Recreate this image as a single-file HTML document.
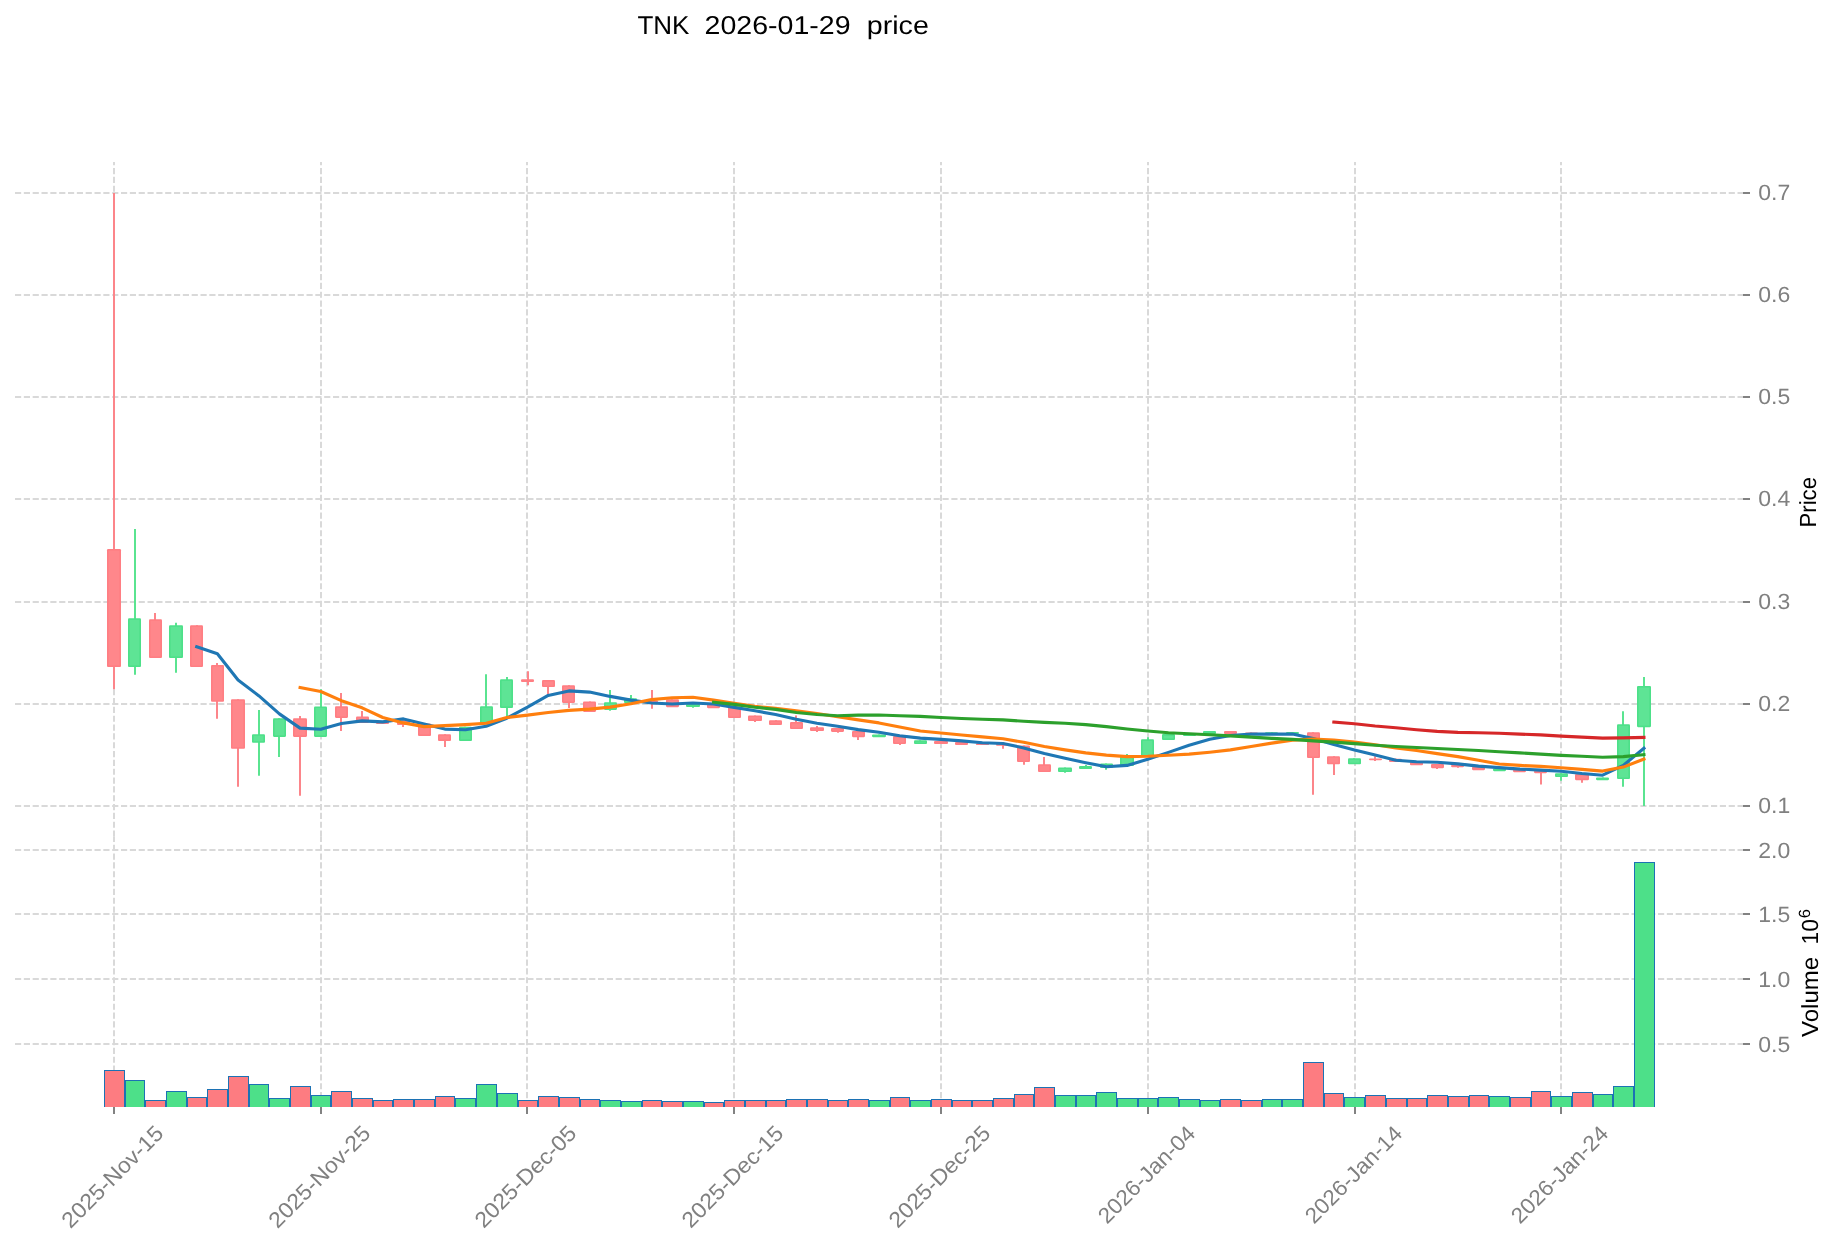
<!DOCTYPE html>
<html lang="en"><head><meta charset="utf-8"><title>TNK 2026-01-29 price</title>
<style>html,body{margin:0;padding:0;background:#ffffff;}body{width:1839px;height:1246px;overflow:hidden;font-family:"Liberation Sans", sans-serif;}svg{display:block;will-change:transform;}text{font-family:"Liberation Sans", sans-serif;text-rendering:geometricPrecision;}</style>
</head><body>
<svg width="1839" height="1246" viewBox="0 0 1839 1246">
<rect x="0" y="0" width="1839" height="1246" fill="#ffffff"/>
<g fill="none" stroke="#d9d9d9" stroke-width="2.00" stroke-dasharray="6.1667 2.6667">
<path d="M114.00 836.70 V162.00"/>
<path d="M114.00 1107.00 V836.70"/>
<path d="M321.00 836.70 V162.00"/>
<path d="M321.00 1107.00 V836.70"/>
<path d="M527.00 836.70 V162.00"/>
<path d="M527.00 1107.00 V836.70"/>
<path d="M734.00 836.70 V162.00"/>
<path d="M734.00 1107.00 V836.70"/>
<path d="M941.00 836.70 V162.00"/>
<path d="M941.00 1107.00 V836.70"/>
<path d="M1148.00 836.70 V162.00"/>
<path d="M1148.00 1107.00 V836.70"/>
<path d="M1355.00 836.70 V162.00"/>
<path d="M1355.00 1107.00 V836.70"/>
<path d="M1561.00 836.70 V162.00"/>
<path d="M1561.00 1107.00 V836.70"/>
<path d="M15.00 193.00 H1743.00"/>
<path d="M15.00 295.00 H1743.00"/>
<path d="M15.00 397.00 H1743.00"/>
<path d="M15.00 499.00 H1743.00"/>
<path d="M15.00 602.00 H1743.00"/>
<path d="M15.00 704.00 H1743.00"/>
<path d="M15.00 806.00 H1743.00"/>
<path d="M15.00 850.00 H1743.00"/>
<path d="M15.00 914.00 H1743.00"/>
<path d="M15.00 979.00 H1743.00"/>
<path d="M15.00 1044.00 H1743.00"/>
</g>
<g>
<path d="M114.00 193.00 V689.20" stroke="#fc858a" stroke-width="2" fill="none"/>
<rect x="107.00" y="549.10" width="14.00" height="117.90" rx="1.1" fill="#ff7e83"/>
<rect x="108.60" y="550.70" width="10.80" height="114.70" fill="#ff878b"/>
<path d="M135.00 529.00 V674.80" stroke="#5ae490" stroke-width="2" fill="none"/>
<rect x="128.00" y="618.30" width="13.00" height="48.70" rx="1.1" fill="#4de089"/>
<rect x="129.60" y="619.90" width="9.80" height="45.50" fill="#5ee495"/>
<path d="M155.00 613.10 V657.60" stroke="#fc858a" stroke-width="2" fill="none"/>
<rect x="149.00" y="619.30" width="13.00" height="38.70" rx="1.1" fill="#ff7e83"/>
<rect x="150.60" y="620.90" width="9.80" height="35.50" fill="#ff878b"/>
<path d="M176.00 622.80 V672.80" stroke="#5ae490" stroke-width="2" fill="none"/>
<rect x="169.00" y="625.30" width="14.00" height="32.70" rx="1.1" fill="#4de089"/>
<rect x="170.60" y="626.90" width="10.80" height="29.50" fill="#5ee495"/>
<path d="M197.00 625.30 V666.70" stroke="#fc858a" stroke-width="2" fill="none"/>
<rect x="190.00" y="625.30" width="13.00" height="41.80" rx="1.1" fill="#ff7e83"/>
<rect x="191.60" y="626.90" width="9.80" height="38.60" fill="#ff878b"/>
<path d="M217.00 663.00 V718.80" stroke="#fc858a" stroke-width="2" fill="none"/>
<rect x="211.00" y="665.10" width="13.00" height="36.70" rx="1.1" fill="#ff7e83"/>
<rect x="212.60" y="666.70" width="9.80" height="33.50" fill="#ff878b"/>
<path d="M238.00 699.20 V786.70" stroke="#fc858a" stroke-width="2" fill="none"/>
<rect x="231.00" y="699.20" width="14.00" height="49.60" rx="1.1" fill="#ff7e83"/>
<rect x="232.60" y="700.80" width="10.80" height="46.40" fill="#ff878b"/>
<path d="M259.00 710.10 V775.80" stroke="#5ae490" stroke-width="2" fill="none"/>
<rect x="252.00" y="734.20" width="13.00" height="8.60" rx="1.1" fill="#4de089"/>
<rect x="253.60" y="735.80" width="9.80" height="5.40" fill="#5ee495"/>
<path d="M279.00 718.30 V756.90" stroke="#5ae490" stroke-width="2" fill="none"/>
<rect x="273.00" y="718.30" width="13.00" height="18.60" rx="1.1" fill="#4de089"/>
<rect x="274.60" y="719.90" width="9.80" height="15.40" fill="#5ee495"/>
<path d="M300.00 716.10 V795.70" stroke="#fc858a" stroke-width="2" fill="none"/>
<rect x="293.00" y="718.30" width="14.00" height="18.60" rx="1.1" fill="#ff7e83"/>
<rect x="294.60" y="719.90" width="10.80" height="15.40" fill="#ff878b"/>
<path d="M321.00 689.20 V736.50" stroke="#5ae490" stroke-width="2" fill="none"/>
<rect x="314.00" y="706.40" width="13.00" height="30.50" rx="1.1" fill="#4de089"/>
<rect x="315.60" y="708.00" width="9.80" height="27.30" fill="#5ee495"/>
<path d="M341.00 693.00 V731.00" stroke="#fc858a" stroke-width="2" fill="none"/>
<rect x="335.00" y="706.30" width="13.00" height="11.60" rx="1.1" fill="#ff7e83"/>
<rect x="336.60" y="707.90" width="9.80" height="8.40" fill="#ff878b"/>
<path d="M362.00 711.10 V722.50" stroke="#fc858a" stroke-width="2" fill="none"/>
<rect x="356.00" y="716.50" width="13.00" height="6.40" rx="1.1" fill="#ff7e83"/>
<rect x="357.60" y="718.10" width="9.80" height="3.20" fill="#ff878b"/>
<path d="M383.00 720.90 V723.60" stroke="#fc858a" stroke-width="2" fill="none"/>
<rect x="376.00" y="720.90" width="13.00" height="3.10" rx="1.1" fill="#ff7e83"/>
<path d="M403.00 720.60 V727.00" stroke="#fc858a" stroke-width="2" fill="none"/>
<rect x="397.00" y="720.60" width="13.00" height="4.40" rx="1.1" fill="#ff7e83"/>
<rect x="398.60" y="722.20" width="9.80" height="1.20" fill="#ff878b"/>
<path d="M424.00 723.40 V735.60" stroke="#fc858a" stroke-width="2" fill="none"/>
<rect x="418.00" y="723.40" width="13.00" height="12.60" rx="1.1" fill="#ff7e83"/>
<rect x="419.60" y="725.00" width="9.80" height="9.40" fill="#ff878b"/>
<path d="M445.00 734.20 V746.90" stroke="#fc858a" stroke-width="2" fill="none"/>
<rect x="438.00" y="734.20" width="13.00" height="6.80" rx="1.1" fill="#ff7e83"/>
<rect x="439.60" y="735.80" width="9.80" height="3.60" fill="#ff878b"/>
<path d="M465.00 726.80 V740.60" stroke="#5ae490" stroke-width="2" fill="none"/>
<rect x="459.00" y="726.80" width="13.00" height="14.20" rx="1.1" fill="#4de089"/>
<rect x="460.60" y="728.40" width="9.80" height="11.00" fill="#5ee495"/>
<path d="M486.00 674.20 V724.30" stroke="#5ae490" stroke-width="2" fill="none"/>
<rect x="480.00" y="706.20" width="13.00" height="18.50" rx="1.1" fill="#4de089"/>
<rect x="481.60" y="707.80" width="9.80" height="15.30" fill="#5ee495"/>
<path d="M507.00 677.10 V716.70" stroke="#5ae490" stroke-width="2" fill="none"/>
<rect x="500.00" y="679.30" width="13.00" height="28.70" rx="1.1" fill="#4de089"/>
<rect x="501.60" y="680.90" width="9.80" height="25.50" fill="#5ee495"/>
<path d="M528.00 671.20 V685.20" stroke="#fc858a" stroke-width="2" fill="none"/>
<rect x="521.00" y="679.30" width="13.00" height="2.70" rx="1.1" fill="#ff7e83"/>
<path d="M548.00 680.10 V693.90" stroke="#fc858a" stroke-width="2" fill="none"/>
<rect x="542.00" y="680.10" width="13.00" height="7.00" rx="1.1" fill="#ff7e83"/>
<rect x="543.60" y="681.70" width="9.80" height="3.80" fill="#ff878b"/>
<path d="M569.00 685.20 V707.90" stroke="#fc858a" stroke-width="2" fill="none"/>
<rect x="562.00" y="685.20" width="13.00" height="17.70" rx="1.1" fill="#ff7e83"/>
<rect x="563.60" y="686.80" width="9.80" height="14.50" fill="#ff878b"/>
<path d="M590.00 701.40 V711.50" stroke="#fc858a" stroke-width="2" fill="none"/>
<rect x="583.00" y="701.40" width="13.00" height="10.50" rx="1.1" fill="#ff7e83"/>
<rect x="584.60" y="703.00" width="9.80" height="7.30" fill="#ff878b"/>
<path d="M610.00 690.10 V710.80" stroke="#5ae490" stroke-width="2" fill="none"/>
<rect x="604.00" y="702.20" width="13.00" height="7.70" rx="1.1" fill="#4de089"/>
<rect x="605.60" y="703.80" width="9.80" height="4.50" fill="#5ee495"/>
<path d="M631.00 695.10 V702.70" stroke="#5ae490" stroke-width="2" fill="none"/>
<rect x="624.00" y="698.20" width="13.00" height="4.90" rx="1.1" fill="#4de089"/>
<rect x="625.60" y="699.80" width="9.80" height="1.70" fill="#5ee495"/>
<path d="M652.00 690.10 V708.80" stroke="#fc858a" stroke-width="2" fill="none"/>
<rect x="645.00" y="700.50" width="13.00" height="2.40" rx="1.1" fill="#ff7e83"/>
<path d="M672.00 699.30 V706.80" stroke="#fc858a" stroke-width="2" fill="none"/>
<rect x="666.00" y="699.30" width="13.00" height="7.90" rx="1.1" fill="#ff7e83"/>
<rect x="667.60" y="700.90" width="9.80" height="4.70" fill="#ff878b"/>
<path d="M693.00 704.10 V707.80" stroke="#5ae490" stroke-width="2" fill="none"/>
<rect x="686.00" y="704.10" width="14.00" height="2.90" rx="1.1" fill="#4de089"/>
<path d="M714.00 703.70 V707.80" stroke="#fc858a" stroke-width="2" fill="none"/>
<rect x="707.00" y="703.70" width="13.00" height="4.50" rx="1.1" fill="#ff7e83"/>
<rect x="708.60" y="705.30" width="9.80" height="1.30" fill="#ff878b"/>
<path d="M734.00 706.60 V717.70" stroke="#fc858a" stroke-width="2" fill="none"/>
<rect x="728.00" y="706.60" width="13.00" height="11.50" rx="1.1" fill="#ff7e83"/>
<rect x="729.60" y="708.20" width="9.80" height="8.30" fill="#ff878b"/>
<path d="M755.00 715.40 V721.90" stroke="#fc858a" stroke-width="2" fill="none"/>
<rect x="748.00" y="715.40" width="14.00" height="5.60" rx="1.1" fill="#ff7e83"/>
<rect x="749.60" y="717.00" width="10.80" height="2.40" fill="#ff878b"/>
<path d="M776.00 720.20 V724.60" stroke="#fc858a" stroke-width="2" fill="none"/>
<rect x="769.00" y="720.20" width="13.00" height="4.80" rx="1.1" fill="#ff7e83"/>
<rect x="770.60" y="721.80" width="9.80" height="1.60" fill="#ff878b"/>
<path d="M796.00 715.40 V728.70" stroke="#fc858a" stroke-width="2" fill="none"/>
<rect x="790.00" y="722.10" width="13.00" height="7.00" rx="1.1" fill="#ff7e83"/>
<rect x="791.60" y="723.70" width="9.80" height="3.80" fill="#ff878b"/>
<path d="M817.00 726.00 V731.90" stroke="#fc858a" stroke-width="2" fill="none"/>
<rect x="810.00" y="727.20" width="14.00" height="3.90" rx="1.1" fill="#ff7e83"/>
<rect x="811.60" y="728.80" width="10.80" height="0.70" fill="#ff878b"/>
<path d="M838.00 728.00 V732.70" stroke="#fc858a" stroke-width="2" fill="none"/>
<rect x="831.00" y="728.00" width="13.00" height="3.90" rx="1.1" fill="#ff7e83"/>
<rect x="832.60" y="729.60" width="9.80" height="0.70" fill="#ff878b"/>
<path d="M858.00 731.00 V740.00" stroke="#fc858a" stroke-width="2" fill="none"/>
<rect x="852.00" y="731.00" width="13.00" height="6.20" rx="1.1" fill="#ff7e83"/>
<rect x="853.60" y="732.60" width="9.80" height="3.00" fill="#ff878b"/>
<path d="M879.00 734.40 V736.80" stroke="#5ae490" stroke-width="2" fill="none"/>
<rect x="872.00" y="734.40" width="14.00" height="2.80" rx="1.1" fill="#4de089"/>
<path d="M900.00 736.10 V744.90" stroke="#fc858a" stroke-width="2" fill="none"/>
<rect x="893.00" y="736.10" width="13.00" height="8.00" rx="1.1" fill="#ff7e83"/>
<rect x="894.60" y="737.70" width="9.80" height="4.80" fill="#ff878b"/>
<path d="M920.00 740.30 V743.70" stroke="#5ae490" stroke-width="2" fill="none"/>
<rect x="914.00" y="740.30" width="13.00" height="3.80" rx="1.1" fill="#4de089"/>
<rect x="915.60" y="741.90" width="9.80" height="0.60" fill="#5ee495"/>
<path d="M941.00 741.00 V743.70" stroke="#fc858a" stroke-width="2" fill="none"/>
<rect x="934.00" y="741.00" width="14.00" height="3.10" rx="1.1" fill="#ff7e83"/>
<path d="M962.00 742.00 V744.70" stroke="#fc858a" stroke-width="2" fill="none"/>
<rect x="955.00" y="742.00" width="13.00" height="3.10" rx="1.1" fill="#ff7e83"/>
<path d="M982.00 743.20 V744.70" stroke="#fc858a" stroke-width="2" fill="none"/>
<rect x="976.00" y="743.20" width="13.00" height="1.90" rx="1.1" fill="#ff7e83"/>
<path d="M1003.00 743.70 V748.70" stroke="#fc858a" stroke-width="2" fill="none"/>
<rect x="996.00" y="743.70" width="14.00" height="2.10" rx="1.1" fill="#ff7e83"/>
<path d="M1024.00 745.40 V764.70" stroke="#fc858a" stroke-width="2" fill="none"/>
<rect x="1017.00" y="745.40" width="13.00" height="16.70" rx="1.1" fill="#ff7e83"/>
<rect x="1018.60" y="747.00" width="9.80" height="13.50" fill="#ff878b"/>
<path d="M1044.00 757.00 V771.70" stroke="#fc858a" stroke-width="2" fill="none"/>
<rect x="1038.00" y="764.20" width="13.00" height="7.90" rx="1.1" fill="#ff7e83"/>
<rect x="1039.60" y="765.80" width="9.80" height="4.70" fill="#ff878b"/>
<path d="M1065.00 767.40 V772.80" stroke="#5ae490" stroke-width="2" fill="none"/>
<rect x="1058.00" y="767.40" width="14.00" height="4.70" rx="1.1" fill="#4de089"/>
<rect x="1059.60" y="769.00" width="10.80" height="1.50" fill="#5ee495"/>
<path d="M1086.00 765.10 V768.60" stroke="#5ae490" stroke-width="2" fill="none"/>
<rect x="1079.00" y="766.10" width="13.00" height="2.90" rx="1.1" fill="#4de089"/>
<path d="M1106.00 763.40 V769.80" stroke="#5ae490" stroke-width="2" fill="none"/>
<rect x="1100.00" y="763.40" width="13.00" height="4.60" rx="1.1" fill="#4de089"/>
<rect x="1101.60" y="765.00" width="9.80" height="1.40" fill="#5ee495"/>
<path d="M1127.00 754.10 V765.60" stroke="#5ae490" stroke-width="2" fill="none"/>
<rect x="1120.00" y="756.30" width="14.00" height="9.70" rx="1.1" fill="#4de089"/>
<rect x="1121.60" y="757.90" width="10.80" height="6.50" fill="#5ee495"/>
<path d="M1148.00 737.30 V756.30" stroke="#5ae490" stroke-width="2" fill="none"/>
<rect x="1141.00" y="739.30" width="13.00" height="17.40" rx="1.1" fill="#4de089"/>
<rect x="1142.60" y="740.90" width="9.80" height="14.20" fill="#5ee495"/>
<path d="M1168.00 734.10 V739.60" stroke="#5ae490" stroke-width="2" fill="none"/>
<rect x="1162.00" y="734.10" width="13.00" height="5.90" rx="1.1" fill="#4de089"/>
<rect x="1163.60" y="735.70" width="9.80" height="2.70" fill="#5ee495"/>
<path d="M1189.00 733.60 V735.60" stroke="#5ae490" stroke-width="2" fill="none"/>
<rect x="1183.00" y="733.60" width="13.00" height="2.40" rx="1.1" fill="#4de089"/>
<path d="M1210.00 731.00 V733.70" stroke="#5ae490" stroke-width="2" fill="none"/>
<rect x="1203.00" y="731.00" width="13.00" height="3.10" rx="1.1" fill="#4de089"/>
<path d="M1230.00 731.00 V733.60" stroke="#fc858a" stroke-width="2" fill="none"/>
<rect x="1224.00" y="731.00" width="13.00" height="3.00" rx="1.1" fill="#ff7e83"/>
<path d="M1251.00 732.50 V734.00" stroke="#fc858a" stroke-width="2" fill="none"/>
<rect x="1245.00" y="732.50" width="13.00" height="1.90" rx="1.1" fill="#ff7e83"/>
<path d="M1272.00 732.30 V733.80" stroke="#5ae490" stroke-width="2" fill="none"/>
<rect x="1265.00" y="732.30" width="13.00" height="1.90" rx="1.1" fill="#4de089"/>
<path d="M1292.00 732.00 V733.60" stroke="#5ae490" stroke-width="2" fill="none"/>
<rect x="1286.00" y="732.00" width="13.00" height="2.00" rx="1.1" fill="#4de089"/>
<path d="M1313.00 732.20 V794.80" stroke="#fc858a" stroke-width="2" fill="none"/>
<rect x="1307.00" y="732.20" width="13.00" height="25.90" rx="1.1" fill="#ff7e83"/>
<rect x="1308.60" y="733.80" width="9.80" height="22.70" fill="#ff878b"/>
<path d="M1334.00 756.20 V774.90" stroke="#fc858a" stroke-width="2" fill="none"/>
<rect x="1327.00" y="756.20" width="13.00" height="8.10" rx="1.1" fill="#ff7e83"/>
<rect x="1328.60" y="757.80" width="9.80" height="4.90" fill="#ff878b"/>
<path d="M1354.00 758.30 V763.90" stroke="#5ae490" stroke-width="2" fill="none"/>
<rect x="1348.00" y="758.30" width="13.00" height="6.00" rx="1.1" fill="#4de089"/>
<rect x="1349.60" y="759.90" width="9.80" height="2.80" fill="#5ee495"/>
<path d="M1375.00 756.30 V760.90" stroke="#fc858a" stroke-width="2" fill="none"/>
<rect x="1369.00" y="758.40" width="13.00" height="1.90" rx="1.1" fill="#ff7e83"/>
<path d="M1396.00 758.80 V761.70" stroke="#fc858a" stroke-width="2" fill="none"/>
<rect x="1389.00" y="758.80" width="13.00" height="3.30" rx="1.1" fill="#ff7e83"/>
<path d="M1417.00 761.70 V764.90" stroke="#fc858a" stroke-width="2" fill="none"/>
<rect x="1410.00" y="761.70" width="13.00" height="3.60" rx="1.1" fill="#ff7e83"/>
<path d="M1437.00 763.90 V769.00" stroke="#fc858a" stroke-width="2" fill="none"/>
<rect x="1431.00" y="763.90" width="13.00" height="4.30" rx="1.1" fill="#ff7e83"/>
<rect x="1432.60" y="765.50" width="9.80" height="1.10" fill="#ff878b"/>
<path d="M1458.00 765.00 V767.80" stroke="#fc858a" stroke-width="2" fill="none"/>
<rect x="1451.00" y="765.00" width="13.00" height="2.20" rx="1.1" fill="#ff7e83"/>
<path d="M1479.00 766.80 V769.80" stroke="#fc858a" stroke-width="2" fill="none"/>
<rect x="1472.00" y="766.80" width="13.00" height="3.40" rx="1.1" fill="#ff7e83"/>
<path d="M1499.00 768.50 V770.80" stroke="#5ae490" stroke-width="2" fill="none"/>
<rect x="1493.00" y="768.50" width="13.00" height="2.70" rx="1.1" fill="#4de089"/>
<path d="M1520.00 769.50 V771.80" stroke="#fc858a" stroke-width="2" fill="none"/>
<rect x="1513.00" y="769.50" width="13.00" height="2.70" rx="1.1" fill="#ff7e83"/>
<path d="M1541.00 770.60 V784.60" stroke="#fc858a" stroke-width="2" fill="none"/>
<rect x="1534.00" y="770.60" width="13.00" height="2.60" rx="1.1" fill="#ff7e83"/>
<path d="M1561.00 773.20 V780.80" stroke="#5ae490" stroke-width="2" fill="none"/>
<rect x="1555.00" y="773.20" width="13.00" height="3.90" rx="1.1" fill="#4de089"/>
<rect x="1556.60" y="774.80" width="9.80" height="0.70" fill="#5ee495"/>
<path d="M1582.00 774.00 V782.80" stroke="#fc858a" stroke-width="2" fill="none"/>
<rect x="1575.00" y="774.00" width="14.00" height="6.20" rx="1.1" fill="#ff7e83"/>
<rect x="1576.60" y="775.60" width="10.80" height="3.00" fill="#ff878b"/>
<path d="M1603.00 777.40 V779.80" stroke="#5ae490" stroke-width="2" fill="none"/>
<rect x="1596.00" y="777.40" width="13.00" height="2.80" rx="1.1" fill="#4de089"/>
<path d="M1623.00 711.30 V786.70" stroke="#5ae490" stroke-width="2" fill="none"/>
<rect x="1617.00" y="724.30" width="13.00" height="54.80" rx="1.1" fill="#4de089"/>
<rect x="1618.60" y="725.90" width="9.80" height="51.60" fill="#5ee495"/>
<path d="M1644.00 677.00 V806.00" stroke="#5ae490" stroke-width="2" fill="none"/>
<rect x="1637.00" y="686.00" width="14.00" height="41.20" rx="1.1" fill="#4de089"/>
<rect x="1638.60" y="687.60" width="10.80" height="38.00" fill="#5ee495"/>
</g>
<g>
<polyline points="196.70,646.70 217.38,653.70 238.05,680.00 258.73,695.70 279.40,713.90 300.08,728.10 320.75,729.30 341.43,723.50 362.10,720.90 382.78,721.90 403.45,718.90 424.12,724.10 444.80,729.10 465.48,729.80 486.15,726.30 506.82,718.20 527.50,707.20 548.17,695.40 568.85,690.90 589.53,692.10 610.20,696.40 630.88,700.10 651.55,703.00 672.23,704.00 692.90,703.00 713.58,704.00 734.25,707.40 754.93,710.80 775.60,714.50 796.27,719.20 816.95,723.20 837.62,726.30 858.30,729.60 878.98,732.20 899.65,735.70 920.33,738.10 941.00,739.40 961.68,740.90 982.35,742.80 1003.02,743.50 1023.70,747.90 1044.38,753.60 1065.05,758.30 1085.72,762.70 1106.40,766.70 1127.08,765.40 1147.75,759.30 1168.42,752.40 1189.10,745.20 1209.78,739.30 1230.45,735.50 1251.12,734.10 1271.80,734.10 1292.48,734.00 1313.15,738.60 1333.83,744.50 1354.50,749.90 1375.17,754.90 1395.85,760.30 1416.53,761.70 1437.20,762.30 1457.88,763.90 1478.55,766.10 1499.23,767.60 1519.90,769.10 1540.58,770.10 1561.25,771.30 1581.92,773.50 1602.60,775.20 1623.28,765.40 1643.95,748.20" fill="none" stroke="#1f77b4" stroke-width="3.10" stroke-linejoin="round" stroke-linecap="square"/>
<polyline points="300.08,687.50 320.75,691.50 341.43,700.70 362.10,707.80 382.78,717.50 403.45,722.90 424.12,726.60 444.80,725.60 465.48,724.60 486.15,723.20 506.82,717.50 527.50,715.10 548.17,712.50 568.85,710.40 589.53,709.10 610.20,707.10 630.88,703.80 651.55,699.60 672.23,697.80 692.90,697.30 713.58,700.10 734.25,703.20 754.93,706.40 775.60,708.40 796.27,710.80 816.95,713.50 837.62,716.70 858.30,719.90 878.98,722.90 899.65,726.90 920.33,731.00 941.00,733.00 961.68,735.00 982.35,736.90 1003.02,738.70 1023.70,742.30 1044.38,746.50 1065.05,749.90 1085.72,752.90 1106.40,755.10 1127.08,756.60 1147.75,756.30 1168.42,755.30 1189.10,754.10 1209.78,752.20 1230.45,749.90 1251.12,746.50 1271.80,743.10 1292.48,740.10 1313.15,739.10 1333.83,740.10 1354.50,742.10 1375.17,744.80 1395.85,747.90 1416.53,750.50 1437.20,753.60 1457.88,756.60 1478.55,760.30 1499.23,764.00 1519.90,765.40 1540.58,766.40 1561.25,767.70 1581.92,769.40 1602.60,771.10 1623.28,767.10 1643.95,759.10" fill="none" stroke="#ff7f0e" stroke-width="3.10" stroke-linejoin="round" stroke-linecap="square"/>
<polyline points="713.58,702.20 734.25,704.40 754.93,707.20 775.60,709.40 796.27,712.50 816.95,714.50 837.62,715.70 858.30,715.10 878.98,715.00 899.65,715.70 920.33,716.40 941.00,717.50 961.68,718.50 982.35,719.20 1003.02,719.90 1023.70,721.20 1044.38,722.40 1065.05,723.20 1085.72,724.60 1106.40,726.60 1127.08,729.00 1147.75,731.00 1168.42,732.70 1189.10,733.70 1209.78,734.70 1230.45,735.90 1251.12,737.10 1271.80,738.40 1292.48,739.40 1313.15,740.90 1333.83,742.10 1354.50,743.60 1375.17,745.20 1395.85,746.50 1416.53,747.50 1437.20,748.50 1457.88,749.50 1478.55,750.50 1499.23,751.70 1519.90,752.90 1540.58,754.10 1561.25,755.40 1581.92,756.30 1602.60,757.30 1623.28,756.60 1643.95,754.60" fill="none" stroke="#2ca02c" stroke-width="3.10" stroke-linejoin="round" stroke-linecap="square"/>
<polyline points="1333.83,722.10 1354.50,723.80 1375.17,726.00 1395.85,727.70 1416.53,729.70 1437.20,731.40 1457.88,732.40 1478.55,732.70 1499.23,733.20 1519.90,734.10 1540.58,734.90 1561.25,736.10 1581.92,737.10 1602.60,738.10 1623.28,737.90 1643.95,737.40" fill="none" stroke="#d62728" stroke-width="3.10" stroke-linejoin="round" stroke-linecap="square"/>
</g>
<clipPath id="vclip"><rect x="0" y="836.70" width="1839" height="270.30"/></clipPath>
<g clip-path="url(#vclip)" stroke="#1c72b4" stroke-width="1">
<rect x="104.5" y="1070.5" width="20.0" height="40.0" fill="#fd7c81"/>
<rect x="125.5" y="1080.5" width="19.0" height="30.0" fill="#4de089"/>
<rect x="145.5" y="1100.5" width="20.0" height="10.0" fill="#fd7c81"/>
<rect x="166.5" y="1091.5" width="20.0" height="19.0" fill="#4de089"/>
<rect x="187.5" y="1097.5" width="19.0" height="13.0" fill="#fd7c81"/>
<rect x="207.5" y="1089.5" width="20.0" height="21.0" fill="#fd7c81"/>
<rect x="228.5" y="1076.5" width="20.0" height="34.0" fill="#fd7c81"/>
<rect x="249.5" y="1084.5" width="19.0" height="26.0" fill="#4de089"/>
<rect x="269.5" y="1098.5" width="20.0" height="12.0" fill="#4de089"/>
<rect x="290.5" y="1086.5" width="20.0" height="24.0" fill="#fd7c81"/>
<rect x="311.5" y="1095.5" width="19.0" height="15.0" fill="#4de089"/>
<rect x="331.5" y="1091.5" width="20.0" height="19.0" fill="#fd7c81"/>
<rect x="352.5" y="1098.5" width="20.0" height="12.0" fill="#fd7c81"/>
<rect x="373.5" y="1100.5" width="19.0" height="10.0" fill="#fd7c81"/>
<rect x="393.5" y="1099.5" width="20.0" height="11.0" fill="#fd7c81"/>
<rect x="414.5" y="1099.5" width="20.0" height="11.0" fill="#fd7c81"/>
<rect x="435.5" y="1096.5" width="19.0" height="14.0" fill="#fd7c81"/>
<rect x="455.5" y="1098.5" width="20.0" height="12.0" fill="#4de089"/>
<rect x="476.5" y="1084.5" width="20.0" height="26.0" fill="#4de089"/>
<rect x="497.5" y="1093.5" width="20.0" height="17.0" fill="#4de089"/>
<rect x="518.5" y="1100.5" width="19.0" height="10.0" fill="#fd7c81"/>
<rect x="538.5" y="1096.5" width="20.0" height="14.0" fill="#fd7c81"/>
<rect x="559.5" y="1097.5" width="20.0" height="13.0" fill="#fd7c81"/>
<rect x="580.5" y="1099.5" width="19.0" height="11.0" fill="#fd7c81"/>
<rect x="600.5" y="1100.5" width="20.0" height="10.0" fill="#4de089"/>
<rect x="621.5" y="1101.5" width="20.0" height="9.0" fill="#4de089"/>
<rect x="642.5" y="1100.5" width="19.0" height="10.0" fill="#fd7c81"/>
<rect x="662.5" y="1101.5" width="20.0" height="9.0" fill="#fd7c81"/>
<rect x="683.5" y="1101.5" width="20.0" height="9.0" fill="#4de089"/>
<rect x="704.5" y="1102.5" width="19.0" height="8.0" fill="#fd7c81"/>
<rect x="724.5" y="1100.5" width="20.0" height="10.0" fill="#fd7c81"/>
<rect x="745.5" y="1100.5" width="20.0" height="10.0" fill="#fd7c81"/>
<rect x="766.5" y="1100.5" width="19.0" height="10.0" fill="#fd7c81"/>
<rect x="786.5" y="1099.5" width="20.0" height="11.0" fill="#fd7c81"/>
<rect x="807.5" y="1099.5" width="20.0" height="11.0" fill="#fd7c81"/>
<rect x="828.5" y="1100.5" width="19.0" height="10.0" fill="#fd7c81"/>
<rect x="848.5" y="1099.5" width="20.0" height="11.0" fill="#fd7c81"/>
<rect x="869.5" y="1100.5" width="20.0" height="10.0" fill="#4de089"/>
<rect x="890.5" y="1097.5" width="19.0" height="13.0" fill="#fd7c81"/>
<rect x="910.5" y="1100.5" width="20.0" height="10.0" fill="#4de089"/>
<rect x="931.5" y="1099.5" width="20.0" height="11.0" fill="#fd7c81"/>
<rect x="952.5" y="1100.5" width="19.0" height="10.0" fill="#fd7c81"/>
<rect x="972.5" y="1100.5" width="20.0" height="10.0" fill="#fd7c81"/>
<rect x="993.5" y="1098.5" width="20.0" height="12.0" fill="#fd7c81"/>
<rect x="1014.5" y="1094.5" width="19.0" height="16.0" fill="#fd7c81"/>
<rect x="1034.5" y="1087.5" width="20.0" height="23.0" fill="#fd7c81"/>
<rect x="1055.5" y="1095.5" width="20.0" height="15.0" fill="#4de089"/>
<rect x="1076.5" y="1095.5" width="19.0" height="15.0" fill="#4de089"/>
<rect x="1096.5" y="1092.5" width="20.0" height="18.0" fill="#4de089"/>
<rect x="1117.5" y="1098.5" width="20.0" height="12.0" fill="#4de089"/>
<rect x="1138.5" y="1098.5" width="19.0" height="12.0" fill="#4de089"/>
<rect x="1158.5" y="1097.5" width="20.0" height="13.0" fill="#4de089"/>
<rect x="1179.5" y="1099.5" width="20.0" height="11.0" fill="#4de089"/>
<rect x="1200.5" y="1100.5" width="19.0" height="10.0" fill="#4de089"/>
<rect x="1220.5" y="1099.5" width="20.0" height="11.0" fill="#fd7c81"/>
<rect x="1241.5" y="1100.5" width="20.0" height="10.0" fill="#fd7c81"/>
<rect x="1262.5" y="1099.5" width="19.0" height="11.0" fill="#4de089"/>
<rect x="1282.5" y="1099.5" width="20.0" height="11.0" fill="#4de089"/>
<rect x="1303.5" y="1062.5" width="20.0" height="48.0" fill="#fd7c81"/>
<rect x="1324.5" y="1093.5" width="19.0" height="17.0" fill="#fd7c81"/>
<rect x="1344.5" y="1097.5" width="20.0" height="13.0" fill="#4de089"/>
<rect x="1365.5" y="1095.5" width="20.0" height="15.0" fill="#fd7c81"/>
<rect x="1386.5" y="1098.5" width="20.0" height="12.0" fill="#fd7c81"/>
<rect x="1407.5" y="1098.5" width="19.0" height="12.0" fill="#fd7c81"/>
<rect x="1427.5" y="1095.5" width="20.0" height="15.0" fill="#fd7c81"/>
<rect x="1448.5" y="1096.5" width="20.0" height="14.0" fill="#fd7c81"/>
<rect x="1469.5" y="1095.5" width="19.0" height="15.0" fill="#fd7c81"/>
<rect x="1489.5" y="1096.5" width="20.0" height="14.0" fill="#4de089"/>
<rect x="1510.5" y="1097.5" width="20.0" height="13.0" fill="#fd7c81"/>
<rect x="1531.5" y="1091.5" width="19.0" height="19.0" fill="#fd7c81"/>
<rect x="1551.5" y="1096.5" width="20.0" height="14.0" fill="#4de089"/>
<rect x="1572.5" y="1092.5" width="20.0" height="18.0" fill="#fd7c81"/>
<rect x="1593.5" y="1094.5" width="19.0" height="16.0" fill="#4de089"/>
<rect x="1613.5" y="1086.5" width="20.0" height="24.0" fill="#4de089"/>
<rect x="1634.5" y="862.5" width="20.0" height="248.0" fill="#4de089"/>
</g>
<g stroke="#828282" stroke-width="2" fill="none">
<path d="M1743.00 193.00 H1750.00"/>
<path d="M1743.00 295.00 H1750.00"/>
<path d="M1743.00 397.00 H1750.00"/>
<path d="M1743.00 499.00 H1750.00"/>
<path d="M1743.00 602.00 H1750.00"/>
<path d="M1743.00 704.00 H1750.00"/>
<path d="M1743.00 806.00 H1750.00"/>
<path d="M1743.00 850.00 H1750.00"/>
<path d="M1743.00 914.00 H1750.00"/>
<path d="M1743.00 979.00 H1750.00"/>
<path d="M1743.00 1044.00 H1750.00"/>
<path d="M114.00 1107.00 V1114.00"/>
<path d="M321.00 1107.00 V1114.00"/>
<path d="M527.00 1107.00 V1114.00"/>
<path d="M734.00 1107.00 V1114.00"/>
<path d="M941.00 1107.00 V1114.00"/>
<path d="M1148.00 1107.00 V1114.00"/>
<path d="M1355.00 1107.00 V1114.00"/>
<path d="M1561.00 1107.00 V1114.00"/>
</g>
<g fill="#808080" font-size="22.0">
<text x="1758.3" y="200.30" textLength="32.0" lengthAdjust="spacingAndGlyphs">0.7</text>
<text x="1758.3" y="302.30" textLength="32.0" lengthAdjust="spacingAndGlyphs">0.6</text>
<text x="1758.3" y="404.30" textLength="32.0" lengthAdjust="spacingAndGlyphs">0.5</text>
<text x="1758.3" y="506.30" textLength="32.0" lengthAdjust="spacingAndGlyphs">0.4</text>
<text x="1758.3" y="609.30" textLength="32.0" lengthAdjust="spacingAndGlyphs">0.3</text>
<text x="1758.3" y="711.30" textLength="32.0" lengthAdjust="spacingAndGlyphs">0.2</text>
<text x="1758.3" y="813.30" textLength="32.0" lengthAdjust="spacingAndGlyphs">0.1</text>
<text x="1758.3" y="857.60" textLength="32.0" lengthAdjust="spacingAndGlyphs">2.0</text>
<text x="1758.3" y="921.60" textLength="32.0" lengthAdjust="spacingAndGlyphs">1.5</text>
<text x="1758.3" y="986.60" textLength="32.0" lengthAdjust="spacingAndGlyphs">1.0</text>
<text x="1758.3" y="1051.60" textLength="32.0" lengthAdjust="spacingAndGlyphs">0.5</text>
<text transform="translate(112.30 1176.50) rotate(-45)" x="0" y="7.7" text-anchor="middle" textLength="133.5" lengthAdjust="spacingAndGlyphs">2025-Nov-15</text>
<text transform="translate(319.30 1176.50) rotate(-45)" x="0" y="7.7" text-anchor="middle" textLength="133.5" lengthAdjust="spacingAndGlyphs">2025-Nov-25</text>
<text transform="translate(525.30 1176.42) rotate(-45)" x="0" y="7.7" text-anchor="middle" textLength="133.2" lengthAdjust="spacingAndGlyphs">2025-Dec-05</text>
<text transform="translate(732.30 1176.42) rotate(-45)" x="0" y="7.7" text-anchor="middle" textLength="133.2" lengthAdjust="spacingAndGlyphs">2025-Dec-15</text>
<text transform="translate(939.30 1176.42) rotate(-45)" x="0" y="7.7" text-anchor="middle" textLength="133.2" lengthAdjust="spacingAndGlyphs">2025-Dec-25</text>
<text transform="translate(1146.30 1174.37) rotate(-45)" x="0" y="7.7" text-anchor="middle" textLength="126.8" lengthAdjust="spacingAndGlyphs">2026-Jan-04</text>
<text transform="translate(1353.30 1174.37) rotate(-45)" x="0" y="7.7" text-anchor="middle" textLength="126.8" lengthAdjust="spacingAndGlyphs">2026-Jan-14</text>
<text transform="translate(1559.30 1174.37) rotate(-45)" x="0" y="7.7" text-anchor="middle" textLength="126.8" lengthAdjust="spacingAndGlyphs">2026-Jan-24</text>
</g>
<g fill="#000000" font-size="23.3">
<text transform="translate(1816.4 527.5) rotate(-90)" x="0" y="0" textLength="50.5" lengthAdjust="spacingAndGlyphs">Price</text>
<text transform="translate(1818.0 1037.0) rotate(-90)" x="0" y="0" textLength="80.2" lengthAdjust="spacingAndGlyphs">Volume</text>
<text transform="translate(1818.0 944.4) rotate(-90)" x="0" y="0" textLength="25.4" lengthAdjust="spacingAndGlyphs">10</text>
<text transform="translate(1810.2 918.3) rotate(-90)" x="0" y="0" font-size="16.3" textLength="9.3" lengthAdjust="spacingAndGlyphs">6</text>
</g>
<g fill="#000000" font-size="25.8">
<text x="637.4" y="33.7" textLength="52.0" lengthAdjust="spacingAndGlyphs">TNK</text>
<text x="704.6" y="33.7" textLength="146.0" lengthAdjust="spacingAndGlyphs">2026-01-29</text>
<text x="866.8" y="33.7" textLength="62.0" lengthAdjust="spacingAndGlyphs">price</text>
</g>
</svg>
</body></html>
